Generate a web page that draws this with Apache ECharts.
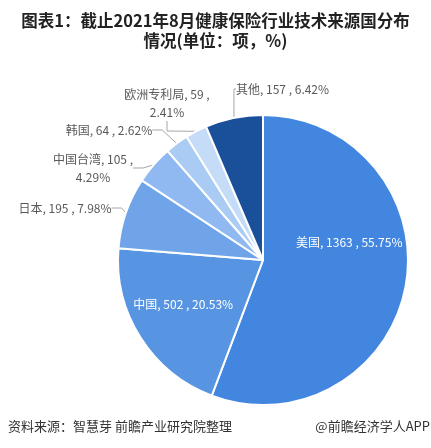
<!DOCTYPE html>
<html>
<head>
<meta charset="utf-8">
<script src="https://cdn.jsdelivr.net/npm/echarts@6/dist/echarts.min.js"></script>
<style>
  html, body { margin: 0; padding: 0; background: #fff; }
  #chart { width: 431px; height: 448px; }
</style>
</head>
<body>
<div id="chart"></div>
<script>
// 来源国及专利数量
var names = ['美国', '中国', '日本', '中国台湾', '韩国', '欧洲专利局', '其他'];
var values = [1363, 502, 195, 105, 64, 59, 157];
var colors = ['#4286df', '#5795e2', '#6fa5e8', '#8fb9f0', '#aacbf4', '#c5dcf8', '#1a4f99'];
// 标签换行的类别
var wrapNames = ['中国台湾', '欧洲专利局'];
var insideNames = ['美国', '中国'];
var insideOffset = { '美国': [12, -31], '中国': [-16, 4] };
// 外部标签摆放位置 [x, y, 对齐]
var labelSpot = {
  '日本': [65, 208, 'center'],
  '中国台湾': [93, 168, 'center'],
  '韩国': [109, 130, 'center'],
  '欧洲专利局': [167, 103, 'center'],
  '其他': [236, 89, 'left']
};

var myChart = echarts.init(document.getElementById('chart'));

var pieData = [];
for (var i = 0; i < names.length; i++) {
  var item = {
    name: names[i],
    value: values[i],
    itemStyle: { color: colors[i] }
  };
  if (insideNames.indexOf(names[i]) >= 0) {
    item.label = {
      position: 'inside',
      color: '#fff',
      offset: insideOffset[names[i]]
    };
    item.labelLine = { show: false };
  }
  pieData.push(item);
}

var option = {
  backgroundColor: '#fff',
  title: {
    text: '图表1：截止2021年8月健康保险行业技术来源国分布\n情况(单位：项，%)',
    left: 'center',
    top: 6,
    textStyle: {
      fontFamily: 'Noto Sans CJK SC',
      fontSize: 16.5,
      fontWeight: 'bold',
      color: '#222',
      lineHeight: 20
    }
  },
  graphic: [{
    type: 'text',
    left: 8,
    top: 420,
    style: {
      text: '资料来源：智慧芽 前瞻产业研究院整理',
      font: '13px "Noto Sans CJK SC"',
      fill: '#333'
    }
  }, {
    type: 'text',
    right: 1,
    top: 420,
    style: {
      text: '@前瞻经济学人APP',
      font: '13px "Noto Sans CJK SC"',
      fill: '#333'
    }
  }],
  series: [{
    type: 'pie',
    center: [263, 260],
    radius: [0, 145],
    startAngle: 90,
    clockwise: true,
    percentPrecision: 2,
    avoidLabelOverlap: false,
    itemStyle: {
      borderColor: '#fff',
      borderWidth: 2
    },
    label: {
      show: true,
      position: 'outside',
      fontFamily: 'Noto Sans CJK SC',
      fontSize: 12,
      color: '#595959',
      lineHeight: 18,
      align: 'center',
      formatter: function (p) {
        var sep = wrapNames.indexOf(p.name) >= 0 ? '\n' : ' ';
        return p.name + ', ' + p.value + ' ,' + sep + p.percent.toFixed(2) + '%';
      }
    },
    labelLine: {
      show: true,
      length: 10,
      length2: 10,
      lineStyle: { color: '#a6a6a6', width: 1 }
    },
    labelLayout: function (p) {
      var s = labelSpot[names[p.dataIndex]];
      if (!s) return {};
      return { x: s[0], y: s[1], align: s[2], verticalAlign: 'middle' };
    },
    data: pieData
  }]
};

myChart.setOption(option);
</script>
</body>
</html>
